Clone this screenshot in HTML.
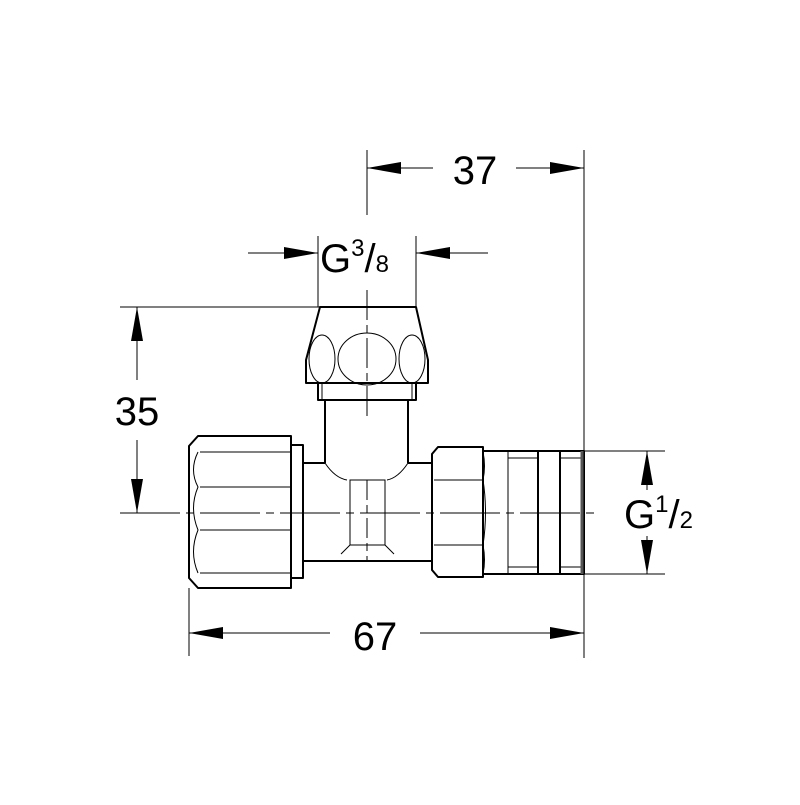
<!DOCTYPE html>
<html><head><style>body{margin:0;background:#fff}</style></head><body>
<svg width="800" height="800" viewBox="0 0 800 800" xmlns="http://www.w3.org/2000/svg" font-family="Liberation Sans, sans-serif">
<rect width="800" height="800" fill="#fff"/>
<defs><marker id="a" viewBox="0 0 12 6" refX="12" refY="3" markerWidth="12" markerHeight="6" orient="auto" markerUnits="userSpaceOnUse"><path d="M0,0L12,3L0,6Z" fill="#000"/></marker>
<marker id="b" viewBox="0 0 34 12" refX="34" refY="6" markerWidth="34" markerHeight="12" orient="auto" markerUnits="userSpaceOnUse"><path d="M0,0L34,6L0,12Z" fill="#000"/></marker></defs>
<g stroke="#000" stroke-width="1" fill="none">
<!-- extension lines -->
<line x1="367" y1="150" x2="367" y2="215"/>
<line x1="584" y1="150" x2="584" y2="658"/>
<line x1="318" y1="236" x2="318" y2="307"/>
<line x1="416" y1="236" x2="416" y2="307"/>
<line x1="120" y1="307" x2="320" y2="307"/>
<line x1="120" y1="513" x2="600" y2="513" stroke-dasharray="60,6,8,6"/>
<line x1="189" y1="588" x2="189" y2="656"/>
<line x1="584" y1="451" x2="665" y2="451"/>
<line x1="584" y1="574" x2="665" y2="574"/>
<line x1="367" y1="290" x2="367" y2="416" stroke-dasharray="30,5,8,5"/>
<line x1="367" y1="480" x2="367" y2="560" stroke-dasharray="20,5,8,5"/>
<!-- dimension lines -->
<line x1="433" y1="168" x2="367" y2="168" marker-end="url(#b)"/>
<line x1="516" y1="168" x2="584" y2="168" marker-end="url(#b)"/>
<line x1="248" y1="253" x2="318" y2="253" marker-end="url(#b)"/>
<line x1="488" y1="253" x2="416" y2="253" marker-end="url(#b)"/>
<line x1="137" y1="380" x2="137" y2="307" marker-end="url(#b)"/>
<line x1="137" y1="440" x2="137" y2="513" marker-end="url(#b)"/>
<line x1="330" y1="633" x2="189" y2="633" marker-end="url(#b)"/>
<line x1="420" y1="633" x2="584" y2="633" marker-end="url(#b)"/>
<line x1="647" y1="490" x2="647" y2="451" marker-end="url(#b)"/>
<line x1="647" y1="536" x2="647" y2="574" marker-end="url(#b)"/>
</g>
<g stroke="#000" stroke-width="2" fill="none" stroke-linejoin="round">
<!-- top nut -->
<path d="M320,307 L416,307 L428,360 L428,383 L306,383 L306,360 Z"/>
<rect x="318" y="383" width="98" height="17"/>
<line x1="325" y1="400" x2="325" y2="463"/><line x1="408" y1="400" x2="408" y2="463"/>
<!-- body -->
<path d="M303,463 L325,463 M408,463 L432,463 M303,561 L432,561"/>
<!-- left nut -->
<path d="M198,436 L291,436 L291,588 L198,588 L189,578 L189,446 Z"/>
<rect x="291" y="445" width="12" height="133"/>
<!-- right hex -->
<path d="M438,447 L483,447 L483,577 L438,577 L432,570 L432,454 Z"/>
<rect x="483" y="451" width="101" height="123"/>
</g>
<g stroke="#000" stroke-width="1" fill="none">
<ellipse cx="367" cy="359" rx="29" ry="26"/>
<ellipse cx="322" cy="359" rx="13" ry="24"/>
<ellipse cx="412" cy="359" rx="13" ry="24"/>
<line x1="322" y1="383" x2="322" y2="400"/><line x1="412" y1="383" x2="412" y2="400"/>
<path d="M325,463 Q335,478 347,480 M408,463 Q398,478 387,480"/>
<path d="M350,480 L385,480 L385,545 L350,545 Z M350,545 L341,554 M385,545 L394,554"/>
<line x1="200" y1="452" x2="291" y2="452"/><line x1="200" y1="487" x2="291" y2="487"/>
<line x1="200" y1="530" x2="291" y2="530"/><line x1="200" y1="573" x2="291" y2="573"/>
<path d="M198,452 Q189,470 198,487 Q189,508 198,530 Q189,552 198,573"/>
<line x1="434" y1="480" x2="483" y2="480"/><line x1="434" y1="545" x2="483" y2="545"/>
<path d="M483,452 Q486,466 483,480 Q488,512 483,545 Q486,560 483,574"/>
<line x1="508" y1="451" x2="508" y2="574"/><line x1="508" y1="458" x2="538" y2="458"/><line x1="508" y1="567" x2="538" y2="567"/>
<line x1="538" y1="451" x2="538" y2="574" stroke-width="2"/>
<line x1="560" y1="451" x2="560" y2="574" stroke-width="2"/>
<line x1="560" y1="458" x2="584" y2="458"/><line x1="560" y1="567" x2="584" y2="567"/>
</g>
<line x1="582" y1="451" x2="582" y2="574" stroke="#555" stroke-width="3"/>
<g fill="#000" font-size="40">
<text x="475" y="184" text-anchor="middle">37</text>
<text x="137" y="425" text-anchor="middle">35</text>
<text x="375" y="650" text-anchor="middle">67</text>
<text x="320" y="272">G<tspan font-size="24" dy="-16">3</tspan><tspan dy="16">/</tspan><tspan font-size="24">8</tspan></text>
<text x="624" y="528">G<tspan font-size="24" dy="-16">1</tspan><tspan dy="16">/</tspan><tspan font-size="24">2</tspan></text>
</g>
</svg>
</body></html>
